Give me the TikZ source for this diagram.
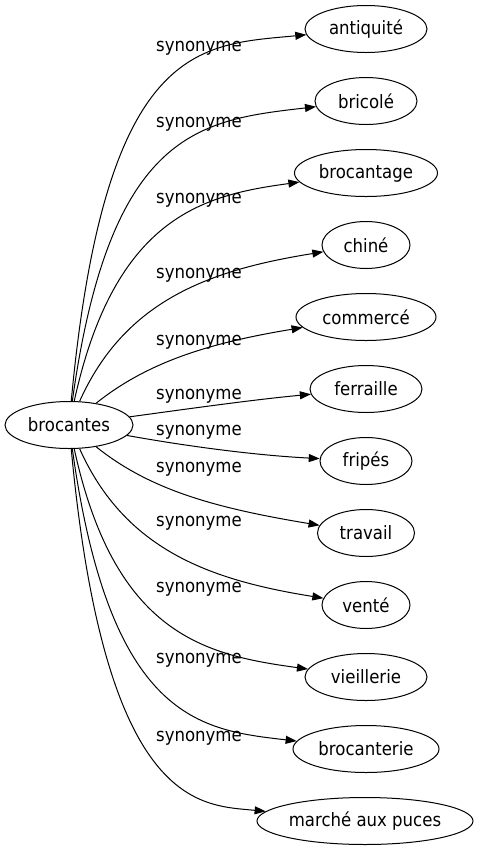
\documentclass[tikz,border=0pt]{standalone}
\usepackage{fontspec}
\setmainfont{DejaVu Sans Condensed}
\usetikzlibrary{shapes.geometric,arrows.meta}

\begin{document}
\begin{tikzpicture}[x=0.75pt,y=-0.75pt,font=\fontsize{13.8}{16}\selectfont]
    % Define styles
    \tikzstyle{word} = [ellipse, draw, line width=0.75pt, inner sep=0pt, minimum height=35.25pt]
    \tikzstyle{rel} = [inner sep=0pt]
    \tikzstyle{arrow} = [line width=0.75pt, -{Triangle[length=8.25pt,width=6pt]}]

    \useasboundingbox (0,0) rectangle (479,851);

    % Source
    \node (brocantes) [word, minimum width=96pt] at (69,425) {brocantes};

    % Synonyms
    \node (antiquite) [word, minimum width=91.5pt] at (366,29) {antiquité};
    \node (bricole) [word, minimum width=76.5pt] at (366,101) {bricolé};
    \node (brocantage) [word, minimum width=107.25pt] at (366,173) {brocantage};
    \node (chine) [word, minimum width=66pt] at (366,245) {chiné};
    \node (commerce) [word, minimum width=105pt] at (366,317) {commercé};
    \node (ferraille) [word, minimum width=84pt] at (366,389) {ferraille};
    \node (fripes) [word, minimum width=69pt] at (366,461) {fripés};
    \node (travail) [word, minimum width=72.75pt] at (366,533) {travail};
    \node (vente) [word, minimum width=66pt] at (366,605) {venté};
    \node (vieillerie) [word, minimum width=91.5pt] at (366,677) {vieillerie};
    \node (brocanterie) [word, minimum width=109.5pt] at (366,749) {brocanterie};
    \node (marche) [word, minimum width=162pt] at (365,821) {marché aux puces};

    % Relations
    \draw [arrow] (brocantes) .. controls (105,40) and (200,45) .. (antiquite) node [rel] at (199,48) {synonyme};
    \draw [arrow] (brocantes) .. controls (110,130) and (200,120) .. (bricole) node [rel] at (199,124) {synonyme};
    \draw [arrow] (brocantes) .. controls (115,215) and (205,195) .. (brocantage) node [rel] at (199,200) {synonyme};
    \draw [arrow] (brocantes) .. controls (125,300) and (210,270) .. (chine) node [rel] at (199,275) {synonyme};
    \draw [arrow] (brocantes) .. controls (150,360) and (215,342) .. (commerce) node [rel] at (199,342) {synonyme};
    \draw [arrow] (brocantes) .. controls (180,410) and (250,400) .. (ferraille) node [rel] at (199,396) {synonyme};
    \draw [arrow] (brocantes) .. controls (180,445) and (250,455) .. (fripes) node [rel] at (199,432) {synonyme};
    \draw [arrow] (brocantes) .. controls (150,490) and (215,508) .. (travail) node [rel] at (199,469) {synonyme};
    \draw [arrow] (brocantes) .. controls (125,550) and (210,580) .. (vente) node [rel] at (199,523) {synonyme};
    \draw [arrow] (brocantes) .. controls (115,635) and (205,655) .. (vieillerie) node [rel] at (199,589) {synonyme};
    \draw [arrow] (brocantes) .. controls (110,720) and (200,730) .. (brocanterie) node [rel] at (199,660) {synonyme};
    \draw [arrow] (brocantes) .. controls (105,810) and (200,805) .. (marche) node [rel] at (199,738) {synonyme};
\end{tikzpicture}
\end{document}
